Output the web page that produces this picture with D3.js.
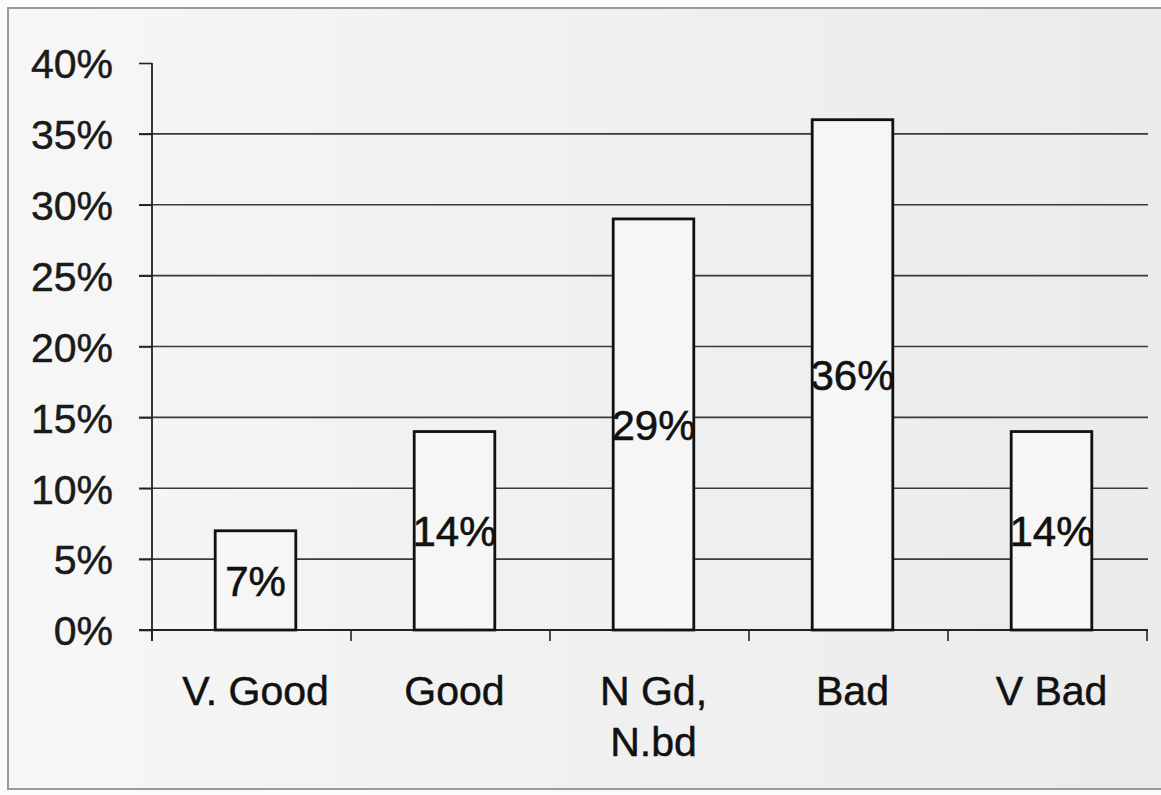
<!DOCTYPE html>
<html>
<head>
<meta charset="utf-8">
<script src="https://cdn.jsdelivr.net/npm/d3@7"></script>
<style>
  html, body { margin: 0; padding: 0; background: #ffffff; }
  svg { display: block; }
</style>
</head>
<body>
<svg id="chart" width="1161" height="795"></svg>
<script>
const categories = ["V. Good", "Good", "N Gd,|N.bd", "Bad", "V Bad"];
const values = [7, 14, 29, 36, 14];
const valueLabels = ["7%", "14%", "29%", "36%", "14%"];
const yTicks = [0, 5, 10, 15, 20, 25, 30, 35, 40];

const svg = d3.select("#chart");
const W = 1161, H = 795;
const font = "'Liberation Sans', Arial, sans-serif";

// background / scanned page
const defs = svg.append("defs");
const grad = defs.append("linearGradient").attr("id", "bg").attr("x1", "0").attr("x2", "1").attr("y1", "0").attr("y2", "0");
grad.append("stop").attr("offset", "0").attr("stop-color", "#f7f7f7");
grad.append("stop").attr("offset", "0.35").attr("stop-color", "#f2f2f2");
grad.append("stop").attr("offset", "1").attr("stop-color", "#ebebeb");
svg.append("rect").attr("x", 0).attr("y", 0).attr("width", W).attr("height", H).attr("fill", "#fbfbfb");
svg.append("rect").attr("x", 8).attr("y", 8).attr("width", W).attr("height", 781)
  .attr("fill", "url(#bg)").attr("stroke", "#9a9a9a").attr("stroke-width", 2);

const x = d3.scaleBand().domain(categories).range([152, 1147]).padding(0);
const y = d3.scaleLinear().domain([0, 40]).range([630, 63]);

const ink = "#222";

// gridlines (5%..35%)
svg.append("g").selectAll("line").data(yTicks.filter(t => t > 0 && t < 40)).join("line")
  .attr("x1", 139).attr("x2", 1148)
  .attr("y1", d => y(d)).attr("y2", d => y(d))
  .attr("stroke", "#3a3a3a").attr("stroke-width", 1.6);

// y axis
const yAxis = d3.axisLeft(y).tickValues(yTicks).tickSize(13).tickPadding(26)
  .tickFormat(d => d + "%");
const gy = svg.append("g").attr("transform", "translate(152,0)").call(yAxis);
gy.select(".domain").remove();
gy.selectAll(".tick line").attr("stroke", ink).attr("stroke-width", 1.6);
gy.selectAll(".tick text").attr("font-family", font).attr("font-size", 41).attr("fill", "#1a1a1a")
  .attr("stroke", "#1a1a1a").attr("stroke-width", 0.5)
  .attr("dy", "0.36em");
svg.append("line").attr("x1", 152).attr("x2", 152).attr("y1", y(40)).attr("y2", 641)
  .attr("stroke", ink).attr("stroke-width", 1.8);

// x axis line and ticks at category boundaries
svg.append("line").attr("x1", 139).attr("x2", 1148).attr("y1", y(0)).attr("y2", y(0))
  .attr("stroke", ink).attr("stroke-width", 1.8);
const bounds = categories.map(c => x(c)).concat([x(categories[categories.length - 1]) + x.bandwidth()]);
svg.append("g").selectAll("line").data(bounds).join("line")
  .attr("x1", d => d).attr("x2", d => d).attr("y1", y(0)).attr("y2", 641)
  .attr("stroke", ink).attr("stroke-width", 1.6);

// bars
const bw = x.bandwidth() * 0.405;
const bx = c => x(c) + (x.bandwidth() - bw) / 2 + 4;
svg.append("g").selectAll("rect").data(categories).join("rect")
  .attr("x", c => bx(c))
  .attr("y", (c, i) => y(values[i]))
  .attr("width", bw)
  .attr("height", (c, i) => y(0) - y(values[i]))
  .attr("fill", "#f6f6f6").attr("stroke", "#111").attr("stroke-width", 2.8);

// value labels
svg.append("g").selectAll("text").data(categories).join("text")
  .attr("x", c => bx(c) + bw / 2)
  .attr("y", (c, i) => (y(values[i]) + y(0)) / 2)
  .attr("dy", "0.36em")
  .attr("text-anchor", "middle")
  .attr("font-family", font).attr("font-size", 42).attr("fill", "#111")
  .attr("stroke", "#111").attr("stroke-width", 0.6)
  .text((c, i) => valueLabels[i]);

// category labels
const cl = svg.append("g").selectAll("text").data(categories).join("text")
  .attr("x", c => bx(c) + bw / 2)
  .attr("y", 705)
  .attr("text-anchor", "middle")
  .attr("font-family", font).attr("font-size", 41).attr("fill", "#111")
  .attr("stroke", "#111").attr("stroke-width", 0.5);
cl.each(function(c) {
  const parts = c.split("|");
  const t = d3.select(this);
  parts.forEach((p, k) => {
    t.append("tspan").attr("x", bx(c) + bw / 2).attr("dy", k === 0 ? 0 : 51).text(p);
  });
});
</script>
</body>
</html>
